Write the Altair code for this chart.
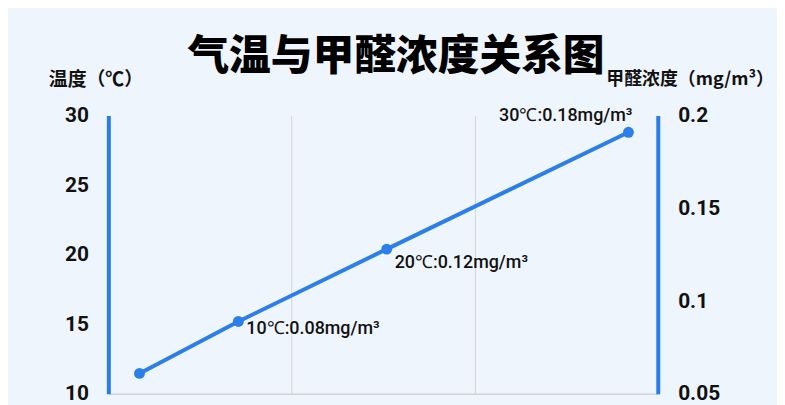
import altair as alt
import pandas as pd

# ---- data ----
x_pos = [0.17, 0.71, 1.52, 2.84]
concentration = [0.061, 0.089, 0.128, 0.191]
point_labels = ["", "10℃:0.08mg/m³", "20℃:0.12mg/m³", "30℃:0.18mg/m³"]
temp_domain = [10, 30]
temp_ticks = [10, 15, 20, 25, 30]
conc_domain = [0.05, 0.2]
conc_ticks = [0.05, 0.1, 0.15, 0.2]
grid_x = [1, 2]

BLUE = "#2a7de6"
LINE = "#2c7fe8"

df = pd.DataFrame({"x": x_pos, "c": concentration, "label": point_labels})
df_left = pd.DataFrame({"t": temp_domain})

x_enc = alt.X(
    "x:Q",
    scale=alt.Scale(domain=[0, 3], nice=False, zero=False),
    axis=alt.Axis(values=grid_x, grid=True, gridColor="#d6dadf", gridWidth=1.2,
                  labels=False, ticks=False, domain=True, domainColor="#d0d4d9",
                  domainWidth=1.5, title=None),
)

left = alt.Chart(df_left).mark_point(opacity=0).encode(
    y=alt.Y("t:Q", scale=alt.Scale(domain=temp_domain, nice=False, zero=False),
            axis=alt.Axis(orient="left", values=temp_ticks, grid=False, ticks=False,
                          domainColor=BLUE, domainWidth=4, labelFont="Roboto",
                          labelFontWeight="bold", labelFontSize=21, labelColor="#111111",
                          labelPadding=20, labelBaseline="middle",
                          title="温度（℃）", titleAngle=0, titleX=-13, titleY=-36,
                          titleAlign="center", titleBaseline="middle",
                          titleFont="Noto Sans CJK SC", titleFontSize=19,
                          titleFontWeight="bold", titleColor="#111111"))
)

y_right = alt.Y("c:Q", scale=alt.Scale(domain=conc_domain, nice=False, zero=False),
                axis=alt.Axis(orient="right", values=conc_ticks, format="~g", grid=False,
                              ticks=False, domainColor=BLUE, domainWidth=4,
                              labelFont="Roboto", labelFontWeight="bold", labelFontSize=21,
                              labelColor="#111111", labelPadding=20, labelBaseline="middle",
                              title="甲醛浓度（mg/m³）", titleAngle=0, titleX=32, titleY=-36,
                              titleAlign="center", titleBaseline="middle",
                              titleFont="Noto Sans CJK SC", titleFontSize=18,
                              titleFontWeight="bold", titleColor="#111111"))

line = alt.Chart(df).mark_line(color=LINE, strokeWidth=4).encode(x=x_enc, y=y_right)
pts = alt.Chart(df).mark_circle(color=LINE, size=120, opacity=1).encode(x=x_enc, y=y_right)

text_style = dict(font="Roboto", fontSize=18, fontWeight=500, color="#111111",
                  baseline="middle")
lab1 = alt.Chart(df.iloc[1:2]).mark_text(align="left", dx=8, dy=8, **text_style).encode(
    x=x_enc, y=y_right, text="label:N")
lab2 = alt.Chart(df.iloc[2:3]).mark_text(align="left", dx=8, dy=14, **text_style).encode(
    x=x_enc, y=y_right, text="label:N")
lab3 = alt.Chart(df.iloc[3:4]).mark_text(align="right", dx=4, dy=-16, **text_style).encode(
    x=x_enc, y=y_right, text="label:N")

right = alt.layer(line, pts, lab1, lab2, lab3)

chart = alt.layer(left, right).resolve_scale(y="independent").properties(
    width=553,
    height=280,
    autosize=alt.AutoSizeParams(type="none"),
    padding={"left": 101, "top": 107, "right": 120, "bottom": 11},
    background="#eef5fc",
    title=alt.TitleParams("气温与甲醛浓度关系图", font="Noto Sans CJK SC", fontSize=42,
                          fontWeight=900, color="#000000", anchor="middle", dx=13,
                          offset=-8),
).configure_view(stroke=None)

chart.save("out.html", embed_options={"renderer": "svg", "actions": False})
